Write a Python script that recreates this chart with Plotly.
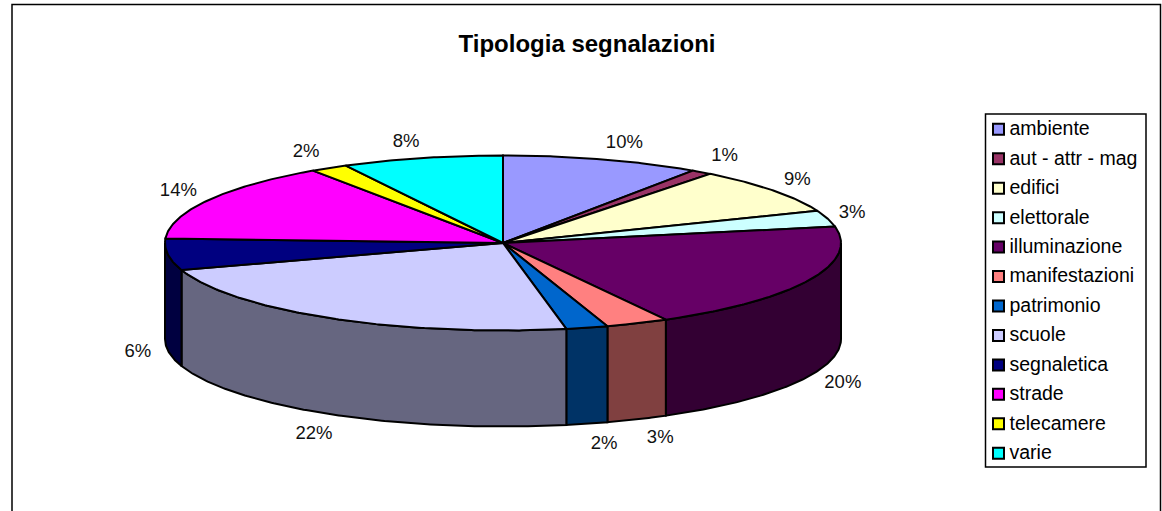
import math
import plotly.graph_objects as go

categories = ["ambiente", "aut - attr - mag", "edifici", "elettorale", "illuminazione", "manifestazioni",
              "patrimonio", "scuole", "segnaletica", "strade", "telecamere", "varie"]
shares = [9.5, 1.0, 8.5, 3.0, 20.0, 3.0, 2.0, 23.0, 5.8, 14.7, 1.8, 7.7]
percent_labels = ["10%", "1%", "9%", "3%", "20%", "3%", "2%", "22%", "6%", "14%", "2%", "8%"]
top_colors = ["#9999FF", "#993366", "#FFFFCC", "#CCFFFF", "#660066", "#FF8080",
              "#0066CC", "#CCCCFF", "#000080", "#FF00FF", "#FFFF00", "#00FFFF"]
side_colors = ["#4C4C80", "#4C1933", "#808066", "#668080", "#330033", "#804040",
               "#003366", "#666680", "#000040", "#800080", "#808000", "#008080"]
label_offsets = [(22, -15.5), (23, -15.5), (24, -10.5), (24.5, -5.5), (34, 7.5), (23, 19.5),
                 (17, 20.5), (-17, 20.5), (-30, 1.5), (-30, -8.5), (-23, -15.5), (-16, -15.5)]

W, H = 1162, 511
CX, CY, RX, RY, DEPTH = 503, 243, 338, 87.5, 96
FONT = "Liberation Sans"
LABEL_SIZE = 18.5
EDGE = 2


def rim(deg, drop=0):
    t = math.radians(deg)
    return CX + RX * math.sin(t), CY - RY * math.cos(t) + drop


def arc(a, b, drop=0):
    n = max(2, int(abs(b - a)) * 2)
    return [rim(a + (b - a) * i / n, drop) for i in range(n + 1)]


fig = go.Figure()
total = sum(shares)
edges = [0.0]
for s in shares:
    edges.append(edges[-1] + s / total * 360)

# Side wall
for i, cat in enumerate(categories):
    a, b = max(edges[i], 90), min(edges[i + 1], 270)
    if a >= b:
        continue
    pts = arc(a, b) + arc(b, a, DEPTH)
    pts.append(pts[0])
    fig.add_trace(go.Scatter(x=[p[0] for p in pts], y=[p[1] for p in pts], mode="lines", fill="toself",
                             fillcolor=side_colors[i], line=dict(color="black", width=EDGE),
                             hoverinfo="skip", showlegend=False))
# Top slices
for i, cat in enumerate(categories):
    pts = [(CX, CY)] + arc(edges[i], edges[i + 1]) + [(CX, CY)]
    fig.add_trace(go.Scatter(x=[p[0] for p in pts], y=[p[1] for p in pts], mode="lines", fill="toself",
                             fillcolor=top_colors[i], line=dict(color="black", width=EDGE),
                             name=cat, showlegend=False))
# Percent labels
lx, ly = [], []
for i in range(len(categories)):
    mid = (edges[i] + edges[i + 1]) / 2
    x, y = rim(mid, DEPTH if 90 < mid < 270 else 0)
    lx.append(x + label_offsets[i][0])
    ly.append(y + label_offsets[i][1])
fig.add_trace(go.Scatter(x=lx, y=ly, mode="text", text=percent_labels, textposition="middle center",
                         textfont=dict(family=FONT, size=LABEL_SIZE, color="#111111"),
                         hoverinfo="skip", showlegend=False))
# Legend
LEG_L, LEG_R, LEG_T, LEG_B = 985.5, 1146, 114, 467
row0, step = 129.3, 29.45
ry = [row0 + i * step for i in range(len(categories))]
fig.add_trace(go.Scatter(x=[998.5] * len(categories), y=ry, mode="markers",
                         marker=dict(symbol="square", size=11, color=top_colors, line=dict(color="black", width=2)),
                         hoverinfo="skip", showlegend=False))
fig.add_trace(go.Scatter(x=[1009.5] * len(categories), y=[v + 1 for v in ry], mode="text", text=categories,
                         textposition="middle right",
                         textfont=dict(family=FONT, size=LABEL_SIZE + 1, color="black"),
                         hoverinfo="skip", showlegend=False))

fig.update_layout(
    width=W, height=H, margin=dict(l=0, r=0, t=0, b=0), autosize=False,
    paper_bgcolor="white", plot_bgcolor="white", showlegend=False,
    title=dict(text="<b>Tipologia segnalazioni</b>", x=587 / W, xanchor="center", y=1 - 44 / H, yanchor="middle",
               font=dict(family=FONT, size=24, color="black")),
    xaxis=dict(range=[0, W], visible=False, fixedrange=True),
    yaxis=dict(range=[H, 0], visible=False, fixedrange=True),
    shapes=[
        dict(type="rect", xref="x", yref="y", x0=12, x1=1160.5, y0=4.5, y1=530, line=dict(color="black", width=1.5), layer="below"),
        dict(type="rect", xref="x", yref="y", x0=LEG_L, x1=LEG_R, y0=LEG_T, y1=LEG_B, line=dict(color="black", width=1.5), layer="below"),
    ],
)
fig.write_html("out.html", config=dict(displayModeBar=False),
               post_script="document.body.style.margin='0';document.documentElement.style.overflow='hidden';")
